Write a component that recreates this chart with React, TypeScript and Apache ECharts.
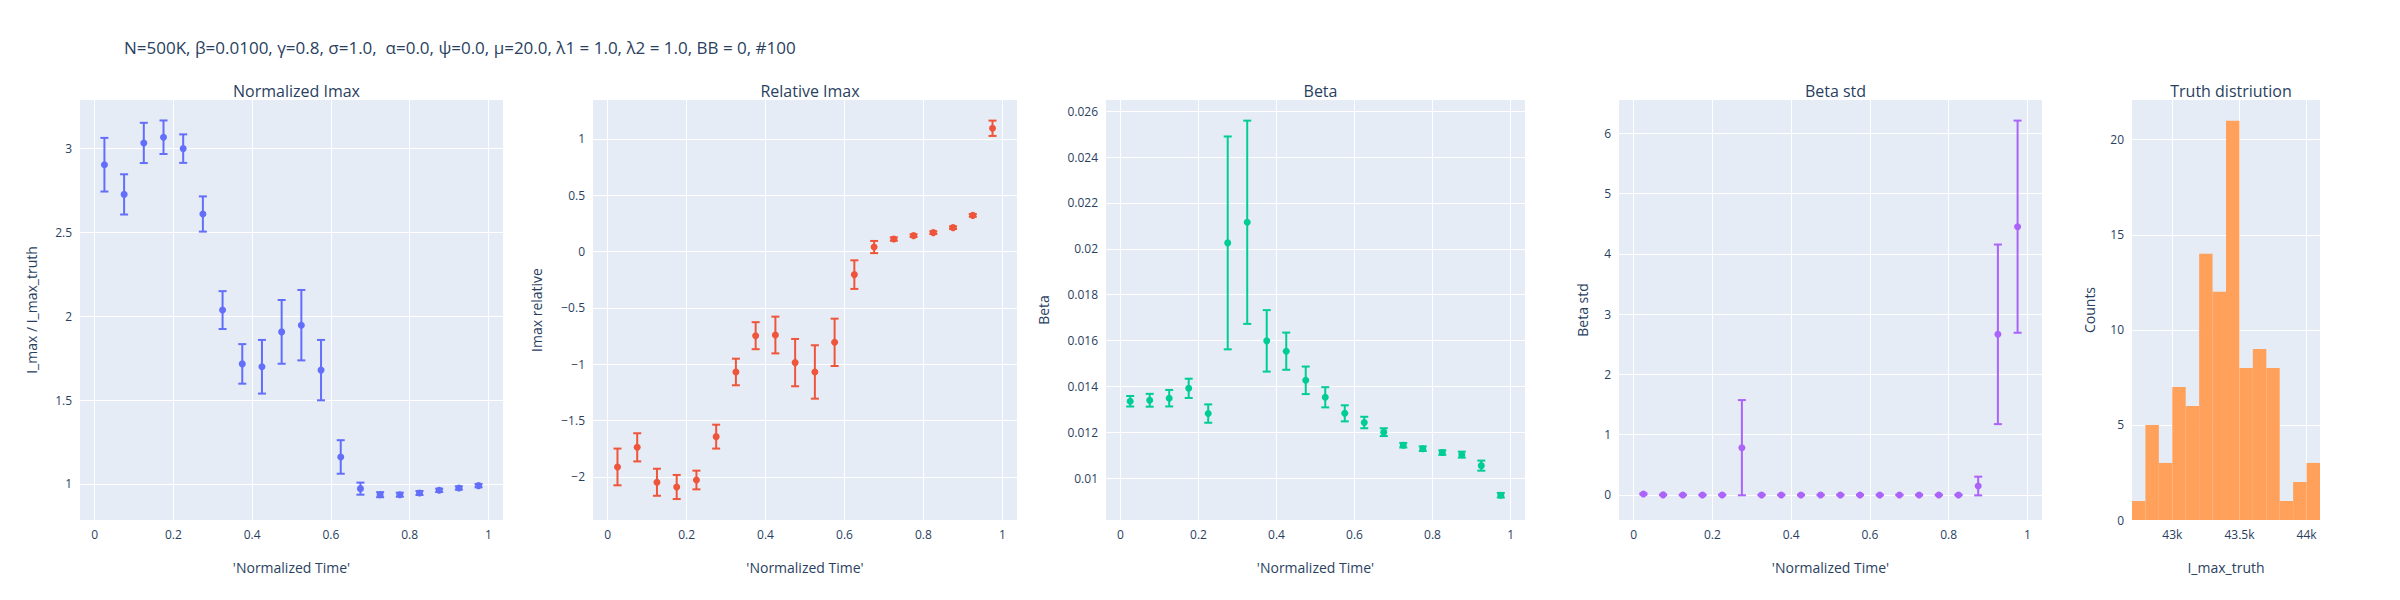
import { useEffect, useRef } from "react";
import * as echarts from "echarts";

const times = [0.025, 0.075, 0.125, 0.175, 0.225, 0.275, 0.325, 0.375, 0.425, 0.475, 0.525, 0.575, 0.625, 0.675, 0.725, 0.775, 0.825, 0.875, 0.925, 0.975];

const normImax = [2.904, 2.727, 3.034, 3.068, 3.0, 2.61, 2.037, 1.716, 1.699, 1.907, 1.947, 1.679, 1.161, 0.972, 0.936, 0.936, 0.946, 0.962, 0.976, 0.99];
const normImaxErr = [0.16, 0.12, 0.12, 0.1, 0.085, 0.105, 0.113, 0.118, 0.16, 0.19, 0.21, 0.18, 0.1, 0.036, 0.015, 0.012, 0.012, 0.01, 0.01, 0.01];

const relImax = [-1.911, -1.737, -2.047, -2.089, -2.027, -1.642, -1.068, -0.746, -0.74, -0.985, -1.068, -0.805, -0.204, 0.041, 0.112, 0.142, 0.169, 0.213, 0.322, 1.095];
const relImaxErr = [0.163, 0.125, 0.12, 0.107, 0.083, 0.106, 0.118, 0.12, 0.163, 0.21, 0.237, 0.21, 0.127, 0.054, 0.015, 0.012, 0.012, 0.012, 0.012, 0.068];

const beta = [0.013357, 0.0134, 0.01349, 0.01392, 0.01282, 0.02026, 0.02116, 0.01599, 0.01554, 0.01427, 0.01353, 0.01283, 0.01243, 0.01201, 0.01144, 0.01129, 0.01112, 0.01103, 0.01055, 0.00926];
const betaErr = [0.00023, 0.00028, 0.00036, 0.00042, 0.0004, 0.00464, 0.00443, 0.00134, 0.00081, 0.0006, 0.00044, 0.00035, 0.00025, 0.00017, 0.0001, 0.0001, 0.0001, 0.00013, 0.00022, 0.0001];

const betaStd = [0.017, 0.002, 0.001, 0.001, 0.001, 0.785, 0.001, 0.001, 0.001, 0.001, 0.001, 0.001, 0.001, 0.001, 0.001, 0.001, 0.001, 0.149, 2.666, 4.452];
const betaStdErr = [0.01, 0.005, 0.005, 0.005, 0.005, 0.79, 0.005, 0.005, 0.005, 0.005, 0.005, 0.005, 0.005, 0.005, 0.005, 0.005, 0.005, 0.155, 1.49, 1.76];

const binStarts = [42700, 42800, 42900, 43000, 43100, 43200, 43300, 43400, 43500, 43600, 43700, 43800, 43900, 44000];
const binCounts = [1, 5, 3, 7, 6, 14, 12, 21, 8, 9, 8, 1, 2, 3];
const binWidth = 100;

const timeTicks = [0, 0.2, 0.4, 0.6, 0.8, 1];
const normTicks = [1, 1.5, 2, 2.5, 3];
const relTicks = [-2, -1.5, -1, -0.5, 0, 0.5, 1];
const betaTicks = [0.01, 0.012, 0.014, 0.016, 0.018, 0.02, 0.022, 0.024, 0.026];
const stdTicks = [0, 1, 2, 3, 4, 5, 6];
const countTicks = [0, 5, 10, 15, 20];
const truthTicks = [43000, 43500, 44000];

const TXT = "#2a3f5f";
const FONT = "'Open Sans', Verdana, Arial, sans-serif";

const grids = [
  { left: 80, width: 423 },
  { left: 593, width: 424 },
  { left: 1106, width: 419 },
  { left: 1619, width: 423 },
  { left: 2132, width: 188 },
];

const fmtNum = (v: number) => {
  const s = String(parseFloat(v.toFixed(4)));
  return s.startsWith("-") ? "\u2212" + s.slice(1) : s;
};

const valueAxis = (gridIndex: number, min: number, max: number, ticks: number[], extra: any = {}) => ({
  type: "value",
  gridIndex,
  min,
  max,
  axisLine: { show: false },
  axisTick: { show: false, customValues: ticks },
  axisLabel: { customValues: ticks, color: TXT, fontSize: 12, fontFamily: FONT, formatter: fmtNum },
  splitLine: { show: true, lineStyle: { color: "#fff", width: 1 } },
  nameTextStyle: { color: TXT, fontSize: 14, fontFamily: FONT },
  ...extra,
});

const App = () => {
  const ref = useRef<HTMLDivElement>(null);

  useEffect(() => {
    document.body.style.margin = "0";
    if (!ref.current) return;
    const chart = echarts.init(ref.current, undefined, { renderer: "svg" });

    const panels = [
      { y: normImax, e: normImaxErr, color: "#636efa" },
      { y: relImax, e: relImaxErr, color: "#EF553B" },
      { y: beta, e: betaErr, color: "#00cc96" },
      { y: betaStd, e: betaStdErr, color: "#ab63fa" },
    ];

    const series: any[] = [];
    panels.forEach((p, i) => {
      series.push({
        type: "custom",
        xAxisIndex: i,
        yAxisIndex: i,
        data: times.map((t, k) => [t, p.y[k], p.e[k]]),
        encode: { x: 0, y: 1 },
        renderItem: (_params: any, api: any) => {
          const x = api.value(0);
          const y = api.value(1);
          const e = api.value(2);
          const top = api.coord([x, y + e]);
          const bot = api.coord([x, y - e]);
          const style = { stroke: p.color, lineWidth: 2 };
          return {
            type: "group",
            children: [
              { type: "line", shape: { x1: top[0], y1: top[1], x2: bot[0], y2: bot[1] }, style },
              { type: "line", shape: { x1: top[0] - 4, y1: top[1], x2: top[0] + 4, y2: top[1] }, style },
              { type: "line", shape: { x1: bot[0] - 4, y1: bot[1], x2: bot[0] + 4, y2: bot[1] }, style },
            ],
          };
        },
        z: 2,
      });
      series.push({
        type: "scatter",
        xAxisIndex: i,
        yAxisIndex: i,
        data: times.map((t, k) => [t, p.y[k]]),
        symbolSize: 7,
        itemStyle: { color: p.color, opacity: 1 },
        z: 3,
      });
    });

    series.push({
      type: "custom",
      xAxisIndex: 4,
      yAxisIndex: 4,
      data: binStarts.map((s, k) => [s, binCounts[k]]),
      encode: { x: 0, y: 1 },
      renderItem: (_params: any, api: any) => {
        const s = api.value(0);
        const c = api.value(1);
        const a = api.coord([s, c]);
        const b = api.coord([s + binWidth, 0]);
        return {
          type: "rect",
          shape: { x: a[0], y: a[1], width: b[0] - a[0], height: b[1] - a[1] },
          style: { fill: "#FFA15A" },
        };
      },
    });

    const subTitles = ["Normalized Imax", "Relative Imax", "Beta", "Beta std", "Truth distriution"];

    const option: any = {
      animation: false,
      backgroundColor: "#fff",
      textStyle: { fontFamily: FONT },
      title: [
        {
          text: "N=500K, \u03b2=0.0100, \u03b3=0.8, \u03c3=1.0,  \u03b1=0.0, \u03c8=0.0, \u03bc=20.0, \u03bb1 = 1.0, \u03bb2 = 1.0, BB = 0, #100",
          left: 119,
          top: 34,
          textStyle: { color: TXT, fontSize: 17, fontWeight: "normal", fontFamily: FONT },
        },
        ...subTitles.map((t, i) => ({
          text: t,
          left: grids[i].left + grids[i].width / 2,
          top: 78,
          textAlign: "center",
          textStyle: { color: TXT, fontSize: 16, fontWeight: "normal", fontFamily: FONT },
        })),
      ],
      grid: grids.map((g) => ({
        left: g.left,
        width: g.width,
        top: 100,
        height: 420,
        show: true,
        backgroundColor: "#E5ECF6",
        borderWidth: 0,
        containLabel: false,
      })),
      xAxis: [
        ...[0, 1, 2, 3].map((i) =>
          valueAxis(i, -0.037, 1.037, timeTicks, {
            name: "'Normalized Time'",
            nameLocation: "middle",
            nameGap: 40,
          })
        ),
        valueAxis(4, 42700, 44100, truthTicks, {
          name: "I_max_truth",
          nameLocation: "middle",
          nameGap: 40,
          axisLabel: {
            customValues: truthTicks,
            color: TXT,
            fontSize: 12,
            fontFamily: FONT,
            formatter: (v: number) => String(v / 1000) + "k",
          },
        }),
      ],
      yAxis: [
        valueAxis(0, 0.785, 3.29, normTicks, { name: "I_max / I_max_truth", nameLocation: "middle", nameGap: 42 }),
        valueAxis(1, -2.382, 1.346, relTicks, { name: "Imax relative", nameLocation: "middle", nameGap: 50 }),
        valueAxis(2, 0.00818, 0.02649, betaTicks, { name: "Beta", nameLocation: "middle", nameGap: 56 }),
        valueAxis(3, -0.415, 6.554, stdTicks, { name: "Beta std", nameLocation: "middle", nameGap: 30 }),
        valueAxis(4, 0, 22.09, countTicks, { name: "Counts", nameLocation: "middle", nameGap: 36 }),
      ],
      series,
    };

    chart.setOption(option);
    return () => {
      chart.dispose();
    };
  }, []);

  return <div ref={ref} style={{ width: "2400px", height: "600px" }} />;
};

export default App;
